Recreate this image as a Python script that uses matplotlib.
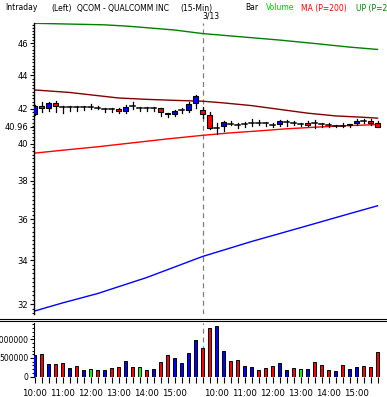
import numpy as np
import matplotlib
matplotlib.use('Agg')
import matplotlib.pyplot as plt
from matplotlib.patches import Rectangle
from matplotlib.ticker import FixedLocator, NullFormatter

# 15-min bars: 3/12 10:00-15:45, 3/13 9:30-15:45
opens = [41.70, 42.16, 42.05, 42.32, 42.09, 42.09, 42.09, 42.09, 42.12, 42.05,
         42.01, 41.97, 41.97, 41.85, 42.13, 42.03, 42.03, 42.03, 42.03, 41.74,
         41.68, 41.91, 41.90, 42.32,
         41.93, 41.64, 40.90, 41.02, 41.14, 41.06, 41.12, 41.19, 41.19, 41.16,
         41.06, 41.10, 41.22, 41.19, 41.12, 41.19, 41.16, 41.10, 41.06, 41.02,
         41.02, 41.12, 41.16, 41.27, 41.31, 41.19]
highs = [42.22, 42.39, 42.39, 42.47, 42.18, 42.18, 42.18, 42.18, 42.26, 42.16,
         42.06, 42.05, 42.05, 42.24, 42.39, 42.10, 42.10, 42.10, 42.03, 41.74,
         41.93, 42.03, 42.38, 42.80,
         42.12, 41.83, 41.16, 41.29, 41.29, 41.16, 41.22, 41.39, 41.33, 41.25,
         41.18, 41.37, 41.37, 41.29, 41.19, 41.27, 41.33, 41.19, 41.16, 41.08,
         41.16, 41.12, 41.39, 41.41, 41.41, 41.31]
lows = [41.64, 41.81, 41.89, 41.83, 41.77, 41.89, 41.89, 41.93, 41.97, 41.97,
        41.83, 41.80, 41.77, 41.72, 41.96, 41.87, 41.87, 41.87, 41.60, 41.54,
        41.60, 41.76, 41.83, 42.06,
        41.48, 40.83, 40.54, 40.71, 41.06, 40.87, 40.93, 41.02, 41.06, 41.02,
        40.94, 41.02, 41.02, 41.06, 41.02, 41.00, 40.90, 40.93, 40.93, 40.93,
        40.93, 40.96, 41.08, 41.16, 41.08, 40.93]
closes = [42.16, 42.05, 42.32, 42.16, 42.09, 42.09, 42.09, 42.09, 42.12, 42.05,
          42.01, 41.97, 41.85, 42.09, 42.13, 42.03, 42.03, 42.03, 41.80, 41.68,
          41.85, 41.91, 42.28, 42.73,
          41.70, 40.87, 40.90, 41.22, 41.14, 41.06, 41.12, 41.19, 41.19, 41.16,
          41.06, 41.31, 41.22, 41.19, 41.12, 41.08, 41.16, 41.10, 41.06, 41.02,
          41.02, 41.04, 41.31, 41.27, 41.19, 40.96]

volumes = [580, 606, 339, 339, 365, 223, 285, 169, 196, 169, 169, 223, 258, 419,
           258, 258, 169, 196, 392, 580, 490, 365, 633, 980,
           766, 1300, 1360, 686, 419, 446, 285, 258, 169, 232, 285, 365, 169, 232,
           205, 205, 392, 312, 178, 152, 312, 205, 258, 285, 258, 659]
volumes = [v * 1000 for v in volumes]
vol_colors = list('brbrrbrbgrbrrbrgrbrrbbbb' + 'rrbbrrbbrrrbbrgbrrrbrbbrrr')

# indicator lines, read at a few bars
up_x = [0, 5, 10, 13, 15, 20, 24, 30, 35, 40, 45, 49]
up_line = [47.30, 47.25, 47.20, 47.12, 47.05, 46.86, 46.63, 46.40, 46.21, 45.99, 45.76, 45.61]
dn_x = [0, 4, 9, 16, 24, 31, 38, 45, 49]
dn_line = [31.69, 32.05, 32.47, 33.20, 34.19, 34.91, 35.59, 36.29, 36.69]
hi_x = [0, 5, 12, 16, 20, 24, 27, 31, 35, 39, 43, 47, 49]
hi_line = [43.11, 42.96, 42.63, 42.55, 42.49, 42.44, 42.34, 42.18, 41.96, 41.74, 41.58, 41.50, 41.45]
ma_x = [0, 4, 9, 14, 19, 24, 28, 32, 36, 40, 44, 49]
ma_line = [39.48, 39.64, 39.83, 40.05, 40.27, 40.47, 40.61, 40.72, 40.84, 40.93, 41.01, 41.08]

price_ticks = [32, 34, 36, 38, 40, 40.96, 42, 44, 46]
price_labels = ['32', '34', '36', '38', '40', '40.96', '42', '44', '46']
time_pos = [0, 4, 8, 12, 16, 20, 26, 30, 34, 38, 42, 46]
time_labels = ['10:00', '11:00', '12:00', '13:00', '14:00', '15:00'] * 2
day_break = 24

W, H = 387, 397
fig = plt.figure(figsize=(W / 100, H / 100), dpi=100)
plt.rcParams['font.family'] = 'DejaVu Sans'

def box(x0, y0, x1, y1):
    return [x0 / W, 1 - y1 / H, (x1 - x0) / W, (y1 - y0) / H]

ax = fig.add_axes(box(33.5, 23, 386, 314))
vax = fig.add_axes(box(33.5, 323, 386, 376.7))

n = len(closes)
xs = np.arange(n)
for i in range(n):
    o, h, l, c = opens[i], highs[i], lows[i], closes[i]
    ax.plot([i, i], [l, h], color='black', lw=0.9, zorder=3)
    if c > o:
        ax.add_patch(Rectangle((i - 0.33, o), 0.66, c - o, fc='#0000ff', ec='black', lw=0.8, zorder=4))
    elif c < o:
        ax.add_patch(Rectangle((i - 0.33, c), 0.66, o - c, fc='#ff0000', ec='black', lw=0.8, zorder=4))
    else:
        ax.plot([i - 0.36, i + 0.36], [o, o], color='black', lw=1.1, zorder=4)

ax.plot(up_x, up_line, color='#008000', lw=1.0)
ax.plot(dn_x, dn_line, color='#0000ff', lw=1.0)
ax.plot(hi_x, hi_line, color='#800000', lw=1.0)
ax.plot(ma_x, ma_line, color='#ff0000', lw=1.0)

xl = (-0.143, 50.21)
ax.set_yscale('log')
ax.set_ylim(31.56, 47.32)
ax.set_xlim(*xl)
ax.yaxis.set_major_locator(FixedLocator(price_ticks))
ax.yaxis.set_minor_locator(FixedLocator(np.arange(31.6, 47.4, 0.2)))
ax.set_yticklabels(price_labels)
ax.yaxis.set_minor_formatter(NullFormatter())
ax.set_xticks([])
for s in ['top', 'right', 'bottom']:
    ax.spines[s].set_visible(False)
ax.spines['left'].set_linewidth(1.0)
ax.tick_params(axis='y', which='major', length=3, width=0.8, labelsize=6, pad=1)
ax.tick_params(axis='y', which='minor', length=1.5, width=0.8)
ax.axvline(day_break, color='#808080', lw=0.9, ls=(0, (4, 3)), zorder=1)

vax.bar(xs, volumes, width=0.5, color=['#0000ff' if c == 'b' else '#ff0000' if c == 'r' else '#00ff00' for c in vol_colors],
        edgecolor='black', linewidth=0.7, zorder=3)
vax.axvline(day_break, color='#808080', lw=0.9, ls=(0, (4, 3)), zorder=1)
vax.set_xlim(*xl)
vax.set_ylim(0, 1435000)
vax.yaxis.set_major_locator(FixedLocator([0, 500000, 1000000]))
vax.set_yticklabels(['0', '500000', '1000000'])
vax.yaxis.set_minor_locator(FixedLocator(np.arange(0, 1430000, 100000)))
vax.set_xticks(time_pos)
vax.set_xticklabels(time_labels)
vax.xaxis.set_minor_locator(FixedLocator(xs))
for s in ['top', 'right', 'bottom']:
    vax.spines[s].set_visible(False)
vax.tick_params(axis='y', which='major', length=3, width=0.8, labelsize=5.5, pad=0.5)
vax.tick_params(axis='y', which='minor', length=1.5, width=0.8)
vax.tick_params(axis='x', which='both', length=4, width=0.8, labelsize=6.2, pad=5)

# separator lines between panels
for yy in (318.7, 320.7):
    fig.add_artist(plt.Line2D([0, 1], [1 - yy / H, 1 - yy / H], color='black', lw=0.8))

hdr_y = 1 - 8 / H
fs = 5.5
fig.text(5 / W, hdr_y, 'Intraday', fontsize=fs, va='center')
fig.text(51 / W, hdr_y, '(Left)', fontsize=fs, va='center')
fig.text(77 / W, hdr_y, 'QCOM - QUALCOMM INC', fontsize=fs, va='center')
fig.text(180 / W, hdr_y, '(15-Min)', fontsize=fs, va='center')
fig.text(245 / W, hdr_y, 'Bar', fontsize=fs, va='center')
fig.text(266 / W, hdr_y, 'Volume', fontsize=fs, va='center', color='#00cc00')
fig.text(301 / W, hdr_y, 'MA (P=200)', fontsize=fs, va='center', color='#ff0000')
fig.text(356 / W, hdr_y, 'UP (P=200)', fontsize=fs, va='center', color='#008000')
fig.text(211 / W, 1 - 16 / H, '3/13', fontsize=fs, va='center', ha='center')

fig.savefig('out.png', dpi=100)
